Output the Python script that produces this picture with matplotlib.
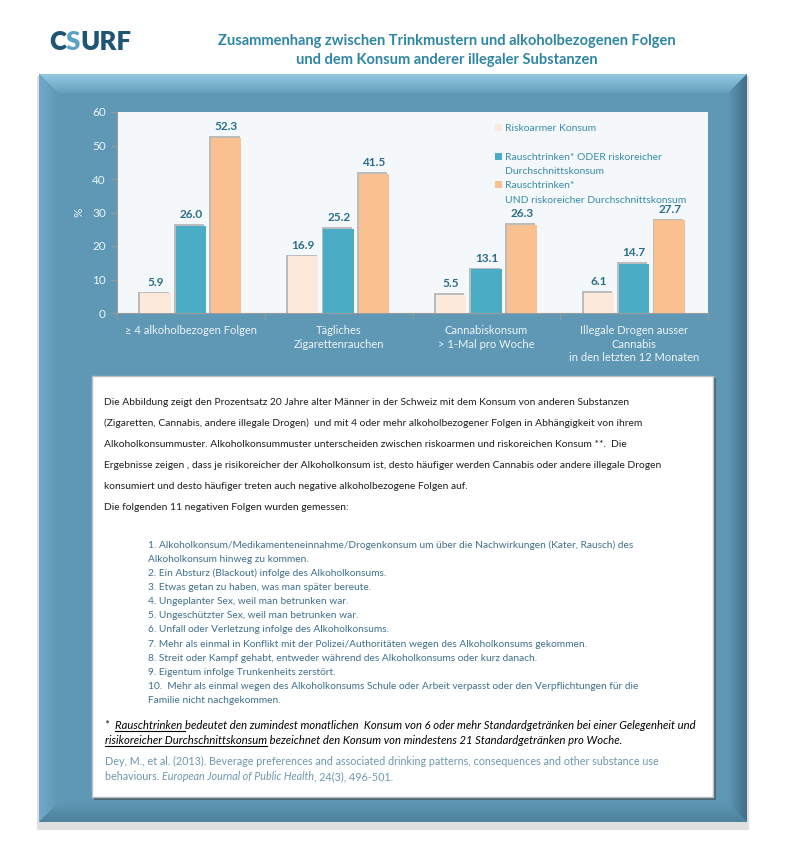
import numpy as np
import matplotlib
matplotlib.use("Agg")
import matplotlib.pyplot as plt
from matplotlib.patches import Polygon, Rectangle, Patch

plt.rcParams['font.family'] = ['Lato', 'DejaVu Sans']

# ---- data ----
categories = ["\u2265 4 alkoholbezogen Folgen",
              "T\u00e4gliches\nZigarettenrauchen",
              "Cannabiskonsum\n> 1-Mal pro Woche",
              "Illegale Drogen ausser\nCannabis\nin den letzten 12 Monaten"]
series_names = ["Riskoarmer Konsum",
                "Rauschtrinken* ODER riskoreicher\nDurchschnittskonsum",
                "Rauschtrinken*\nUND riskoreicher Durchschnittskonsum"]
low_risk = [5.9, 16.9, 5.5, 6.1]
one_risk = [26.0, 25.2, 13.1, 14.7]
both_risk = [52.3, 41.5, 26.3, 27.7]
series_values = [low_risk, one_risk, both_risk]
series_colors = ["#FDE9D9", "#4BACC6", "#FAC090"]
y_ticks = [0, 10, 20, 30, 40, 50, 60]

title_lines = ["Zusammenhang zwischen Trinkmustern und alkoholbezogenen Folgen",
               "und dem Konsum anderer illegaler Substanzen"]

para_lines = [
    "Die Abbildung zeigt den Prozentsatz 20 Jahre alter M\u00e4nner in der Schweiz mit dem Konsum von anderen Substanzen",
    "(Zigaretten, Cannabis, andere illegale Drogen)  und mit 4 oder mehr alkoholbezogener Folgen in Abh\u00e4ngigkeit von ihrem",
    "Alkoholkonsummuster. Alkoholkonsummuster unterscheiden zwischen riskoarmen und riskoreichen Konsum **.  Die",
    "Ergebnisse zeigen , dass je risikoreicher der Alkoholkonsum ist, desto h\u00e4ufiger werden Cannabis oder andere illegale Drogen",
    "konsumiert und desto h\u00e4ufiger treten auch negative alkoholbezogene Folgen auf.",
    "Die folgenden 11 negativen Folgen wurden gemessen:",
]
list_lines = [
    "1. Alkoholkonsum/Medikamenteneinnahme/Drogenkonsum um \u00fcber die Nachwirkungen (Kater, Rausch) des",
    "Alkoholkonsum hinweg zu kommen.",
    "2. Ein Absturz (Blackout) infolge des Alkoholkonsums.",
    "3. Etwas getan zu haben, was man sp\u00e4ter bereute.",
    "4. Ungeplanter Sex, weil man betrunken war.",
    "5. Ungesch\u00fctzter Sex, weil man betrunken war.",
    "6. Unfall oder Verletzung infolge des Alkoholkonsums.",
    "7. Mehr als einmal in Konflikt mit der Polizei/Authorit\u00e4ten wegen des Alkoholkonsums gekommen.",
    "8. Streit oder Kampf gehabt, entweder w\u00e4hrend des Alkoholkonsums oder kurz danach.",
    "9. Eigentum infolge Trunkenheits zerst\u00f6rt.",
    "10.  Mehr als einmal wegen des Alkoholkonsums Schule oder Arbeit verpasst oder den Verpflichtungen f\u00fcr die",
    "Familie nicht nachgekommen.",
]
list_y = [544, 558, 572, 586, 600, 614, 628, 643, 657, 671, 685, 699]

W, H = 785, 849
fig = plt.figure(figsize=(W / 100, H / 100), dpi=100, facecolor="white")
renderer = fig.canvas.get_renderer()

# background layer in pixel coordinates
bg = fig.add_axes([0, 0, 1, 1], zorder=0)
bg.set_xlim(0, W)
bg.set_ylim(H, 0)
bg.axis("off")


def gradient(pts, c1, c2, vertical=True):
    pts = np.array(pts)
    poly = Polygon(pts, closed=True, facecolor="none", edgecolor="none")
    bg.add_patch(poly)
    cmap = matplotlib.colors.LinearSegmentedColormap.from_list("g", [c1, c2])
    g = np.linspace(0, 1, 64)
    img = g[:, None] if vertical else g[None, :]
    x0, x1 = pts[:, 0].min(), pts[:, 0].max()
    y0, y1 = pts[:, 1].min(), pts[:, 1].max()
    im = bg.imshow(img, cmap=cmap, extent=(x0, x1, y1, y0), aspect="auto",
                   interpolation="bilinear", zorder=1)
    im.set_clip_path(poly)


# panel with bevel
L, T, R, B, bv = 39, 74, 747, 822, 19
bg.add_patch(Rectangle((L - 2, T + 2), R - L + 4, B - T + 6, color="#a8a8a8", alpha=0.35, lw=0))
bg.add_patch(Rectangle((L, T), R - L, B - T, color="#5F98B5", lw=0))
gradient([(L, T), (R, T), (R - bv, T + bv), (L + bv, T + bv)], "#93CAE3", "#66A0BD")
gradient([(L, T), (L + bv, T + bv), (L + bv, B - bv), (L, B)], "#72AAC6", "#5F98B5", vertical=False)
gradient([(R, T), (R, B), (R - bv, B - bv), (R - bv, T + bv)], "#5F98B5", "#416F88", vertical=False)
gradient([(L, B), (L + bv, B - bv), (R - bv, B - bv), (R, B)], "#5E96B3", "#4E829E")
bg.add_patch(Rectangle((L + bv, T + bv), R - L - 2 * bv, B - T - 2 * bv, color="#5F98B5", lw=0))

# text box
bx0, by0, bx1, by1 = 92, 376, 713, 797
bg.add_patch(Rectangle((bx0 + 2, by0 + 2), bx1 - bx0 + 1, by1 - by0 + 1, color="#3c3c3c", alpha=0.5, lw=0))
bg.add_patch(Rectangle((bx0, by0), bx1 - bx0, by1 - by0, facecolor="white", edgecolor="#BDBDBD", lw=1))


def measure(s, **kw):
    t = bg.text(0, 0, s + "|", **kw)
    w1 = t.get_window_extent(renderer).width
    t.set_text("|")
    w2 = t.get_window_extent(renderer).width
    t.remove()
    return w1 - w2


def runs(x, y, parts, **common):
    spans = []
    for s, kw in parts:
        style = dict(common)
        style.update(kw)
        bg.text(x, y, s, va="baseline", ha="left", **style)
        w = measure(s, **style)
        ws = measure(s.rstrip(), **style)
        spans.append((x, x + ws))
        x += w
    return spans


# logo
runs(49, 50, [("C", {"color": "#1E5573"}), ("S", {"color": "#5AA2C8"}), ("URF", {"color": "#1E5573"})],
     fontsize=18.5, fontweight="heavy")

# title
for i, line in enumerate(title_lines):
    bg.text(447, 41 + 19 * i, line, ha="center", va="center", fontsize=10.5,
            fontweight="bold", color="#2F86A4")

# paragraph
for i, line in enumerate(para_lines):
    bg.text(104, 405 + 21 * i, line, ha="left", va="baseline", fontsize=7.35, color="#1d1d1d")

for yy, line in zip(list_y, list_lines):
    bg.text(148, yy + 4, line, ha="left", va="baseline", fontsize=7.3, color="#3F6F8B")

# footnote with underlined terms
fn = dict(fontsize=8.15, color="black", fontstyle="italic")
sp1 = runs(105, 729, [("*  ", {}), ("Rauschtrinken ", {}),
                      ("bedeutet den zumindest monatlichen  Konsum von 6 oder mehr Standardgetr\u00e4nken bei einer Gelegenheit und", {})], **fn)
sp2 = runs(105, 744, [("risikoreicher Durchschnittskonsum", {}),
                      (" bezeichnet den Konsum von mindestens 21 Standardgetr\u00e4nken pro Woche.", {})], **fn)
bg.plot([sp1[1][0], sp1[1][1] + 3], [731, 731], color="black", lw=0.8)
bg.plot([sp2[0][0], sp2[0][1]], [746, 746], color="black", lw=0.8)

# citation
ct = dict(fontsize=7.75, color="#6E97AE")
bg.text(105, 765, "Dey, M., et al. (2013). Beverage preferences and associated drinking patterns, consequences and other substance use",
        va="baseline", **ct)
runs(105, 780, [("behaviours. ", {}), ("European Journal of Public Health", {"fontstyle": "italic"}),
                (", 24(3), 496-501.", {})], **ct)

# ---- chart ----
ax = fig.add_axes([117 / W, 1 - 313 / H, (708 - 117) / W, (313 - 112) / H], zorder=2)
ax.set_facecolor("#F4F8FA")
x = np.arange(len(categories))
width = 0.205
offsets = [-0.24, 0.0, 0.24]
for vals, off, col in zip(series_values, offsets, series_colors):
    ax.bar(x + off - 0.012, np.array(vals) + 0.45, width, color="#8c8c8c", alpha=0.55, zorder=2)
    bars = ax.bar(x + off, vals, width, color=col, zorder=3)
    for rect, v in zip(bars, vals):
        ax.annotate(f"{v:.1f}", (rect.get_x() + rect.get_width() / 2, v), xytext=(0, 4),
                    textcoords="offset points", ha="center", va="bottom",
                    fontsize=8.5, fontweight="bold", color="#2C6D8B", zorder=4)

ax.set_xlim(-0.5, len(categories) - 0.5)
ax.set_ylim(0, 60)
ax.set_yticks(y_ticks)
ax.set_xticks(x)
ax.set_xticklabels(categories, fontsize=8, color="#EEF4F7", linespacing=1.25)
ax.set_xticks(np.arange(-0.5, len(categories)), minor=True)
ax.tick_params(axis="x", which="major", length=0, pad=9)
ax.tick_params(axis="x", which="minor", length=5, color="#9a9a9a")
ax.tick_params(axis="y", length=4, color="#9a9a9a", labelsize=8.5, labelcolor="#EEF4F7", pad=4)
for s in ["top", "right"]:
    ax.spines[s].set_visible(False)
ax.spines["left"].set_color("#9a9a9a")
ax.spines["bottom"].set_color("#9a9a9a")
ax.set_ylabel("%", color="#EEF4F7", fontsize=8.5, labelpad=5.5)

# legend with the square on the first line of each entry
blank = Patch(facecolor="none", edgecolor="none")
handles, labels = [], []
for name, col in zip(series_names, series_colors):
    parts = name.split("\n")
    handles.append(Patch(facecolor=col, edgecolor="none"))
    labels.append(parts[0])
    for p in parts[1:]:
        handles.append(blank)
        labels.append(p)
    if len(parts) == 1:
        handles.append(blank)
        labels.append(" ")
ax.legend(handles, labels, loc="upper left", bbox_to_anchor=((495 - 117) / 591, (313 - 124) / 201),
          frameon=False, fontsize=7.5, labelcolor="#3A8BAB", handlelength=0.7, handleheight=0.7,
          handletextpad=0.3, labelspacing=0.48, borderpad=0, borderaxespad=0)

fig.savefig("out.png", dpi=100, facecolor="white")
